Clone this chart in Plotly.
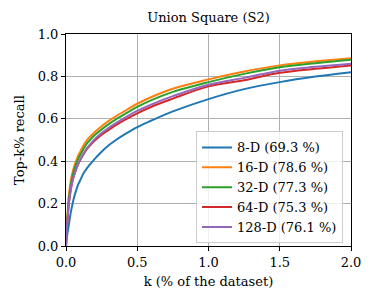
import plotly.graph_objects as go

k = [0, 0.005, 0.01, 0.02, 0.03, 0.04, 0.055, 0.07, 0.085, 0.1, 0.125, 0.15, 0.175, 0.2, 0.25, 0.3, 0.35, 0.4, 0.5, 0.6, 0.75, 1.0, 1.25, 1.5, 1.75, 2.0]

recall_8d = [0, 0.035, 0.06, 0.10, 0.145, 0.18, 0.225, 0.26, 0.29, 0.31, 0.345, 0.37, 0.39, 0.41, 0.445, 0.475, 0.50, 0.522, 0.561, 0.592, 0.635, 0.693, 0.74, 0.773, 0.799, 0.82]
recall_16d = [0, 0.09, 0.14, 0.24, 0.29, 0.33, 0.37, 0.40, 0.425, 0.445, 0.477, 0.502, 0.52, 0.537, 0.565, 0.59, 0.612, 0.632, 0.671, 0.703, 0.742, 0.786, 0.823, 0.852, 0.871, 0.886]
recall_32d = [0, 0.085, 0.13, 0.22, 0.27, 0.31, 0.355, 0.385, 0.41, 0.43, 0.46, 0.486, 0.505, 0.522, 0.55, 0.575, 0.597, 0.617, 0.656, 0.688, 0.727, 0.773, 0.812, 0.843, 0.862, 0.878]
recall_64d = [0, 0.075, 0.12, 0.20, 0.25, 0.29, 0.33, 0.36, 0.385, 0.405, 0.435, 0.46, 0.479, 0.496, 0.525, 0.548, 0.57, 0.59, 0.626, 0.657, 0.695, 0.753, 0.782, 0.817, 0.836, 0.852]
recall_128d = [0, 0.075, 0.12, 0.20, 0.25, 0.29, 0.33, 0.36, 0.387, 0.408, 0.438, 0.464, 0.484, 0.503, 0.533, 0.558, 0.58, 0.60, 0.637, 0.668, 0.707, 0.761, 0.793, 0.827, 0.845, 0.86]

names = ["8-D (69.3 %)", "16-D (78.6 %)", "32-D (77.3 %)", "64-D (75.3 %)", "128-D (76.1 %)"]
series = [recall_8d, recall_16d, recall_32d, recall_64d, recall_128d]
colors = ["#1f77b4", "#ff7f0e", "#2ca02c", "#d62728", "#9467bd"]

tickvals_x = [0, 0.5, 1.0, 1.5, 2.0]
ticktext_x = ["0.0", "0.5", "1.0", "1.5", "2.0"]
tickvals_y = [0, 0.2, 0.4, 0.6, 0.8, 1.0]
ticktext_y = ["0.0", "0.2", "0.4", "0.6", "0.8", "1.0"]

FONT = "DejaVu Serif, Liberation Serif, serif"

# page body has an 8px default margin, so the figure is sized 8px smaller
W, H = 365, 299
ML, MR, MT, MB = 58, 22, 26, 61

fig = go.Figure()
for n, s, c in zip(names, series, colors):
    fig.add_trace(go.Scatter(x=k, y=s, mode="lines", name=n,
                             line=dict(color=c, width=2, shape="spline", smoothing=1.0)))

axis_common = dict(showline=True, linecolor="black", linewidth=1, mirror=True,
                   ticks="outside", ticklen=4, tickcolor="black",
                   showgrid=True, gridcolor="#b0b0b0", gridwidth=1, zeroline=False,
                   tickfont=dict(family=FONT, size=13, color="black"))

fig.update_layout(
    width=W, height=H,
    margin=dict(l=ML, r=MR, t=MT, b=MB, autoexpand=False),
    paper_bgcolor="white", plot_bgcolor="white",
    font=dict(family=FONT, size=13, color="black"),
    title=dict(text="Union Square (S2)", x=(ML + (W - MR)) / 2 / W, xanchor="center",
               y=1 - 9 / H, yanchor="middle", font=dict(family=FONT, size=13)),
    xaxis=dict(range=[0, 2.0], tickvals=tickvals_x, ticktext=ticktext_x,
               title=dict(text="k (% of the dataset)", standoff=8, font=dict(family=FONT, size=13)),
               **axis_common),
    yaxis=dict(range=[0, 1.0], tickvals=tickvals_y, ticktext=ticktext_y,
               title=dict(text="Top-k% recall", standoff=10, font=dict(family=FONT, size=13)),
               **axis_common),
    legend=dict(x=0.972, y=0.012, xanchor="right", yanchor="bottom",
                bgcolor="rgba(255,255,255,0.8)", bordercolor="#cccccc", borderwidth=1,
                font=dict(family=FONT, size=13), tracegroupgap=0, itemwidth=30),
    showlegend=True,
)

fig.write_html("out.html")
